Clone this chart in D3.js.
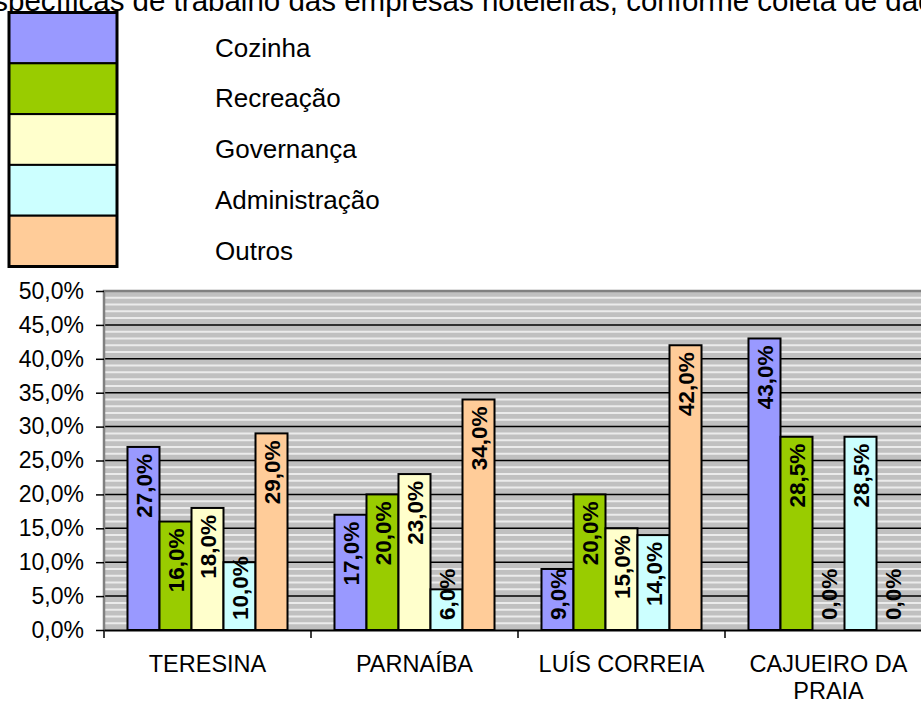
<!DOCTYPE html>
<html>
<head>
<meta charset="utf-8">
<script src="https://cdn.jsdelivr.net/npm/d3@7"></script>
<style>
  body { margin: 0; background: #fff; }
  svg { display: block; font-family: "Liberation Sans", Arial, sans-serif; }
</style>
</head>
<body>
<svg id="chart" width="921" height="703"></svg>
<script>
// data
const cities = ["TERESINA", "PARNAÍBA", "LUÍS CORREIA", "CAJUEIRO DA PRAIA"];
const areas = ["Cozinha", "Recreação", "Governança", "Administração", "Outros"];
const colors = ["#9999ff", "#99cc00", "#ffffcc", "#ccffff", "#ffcc99"];
const cozinha = [27, 17, 9, 43];
const recreacao = [16, 20, 20, 28.5];
const governanca = [18, 23, 15, 0];
const administracao = [10, 6, 14, 28.5];
const outros = [29, 34, 42, 0];
const yTicks = [0, 5, 10, 15, 20, 25, 30, 35, 40, 45, 50];
const titleText = "específicas de trabalho das empresas hoteleiras, conforme coleta de dados";

const seriesValues = [cozinha, recreacao, governanca, administracao, outros];
const pct = v => d3.format(".1f")(v).replace(".", ",") + "%";

const svg = d3.select("#chart");

// plot area frame
const plotLeft = 104, plotTop = 291, plotBottom = 630, plotRight = 932;

const y = d3.scaleLinear().domain([0, 50]).range([plotBottom, plotTop]);
const x0 = d3.scaleBand().domain(cities).range([plotLeft, plotRight]);
const x1 = d3.scaleBand().domain(areas).range([0, x0.bandwidth()]).paddingOuter(0.734);

// title, cut off at the top and left like the reference
const title = svg.append("text")
  .attr("y", 11)
  .attr("font-size", 29.5)
  .attr("fill", "#000")
  .text(titleText);
const prefix = title.node().getSubStringLength(0, 2);
title.attr("x", 8 - prefix);

// legend
const legend = svg.append("g");
const rowH = 50.8;
areas.forEach((a, i) => {
  legend.append("rect")
    .attr("x", 9).attr("y", 12.5 + i * rowH)
    .attr("width", 108).attr("height", rowH)
    .attr("fill", colors[i])
    .attr("stroke", "#000").attr("stroke-width", 2);
  legend.append("text")
    .attr("x", 215).attr("y", 12.5 + i * rowH + 44)
    .attr("font-size", 26)
    .text(a);
});
legend.append("rect")
  .attr("x", 9).attr("y", 12.5)
  .attr("width", 108).attr("height", rowH * 5)
  .attr("fill", "none")
  .attr("stroke", "#000").attr("stroke-width", 3);

// background with light minor lines
const plot = svg.append("g");
plot.append("rect")
  .attr("x", plotLeft).attr("y", plotTop)
  .attr("width", plotRight - plotLeft).attr("height", plotBottom - plotTop)
  .attr("fill", "#c0c0c0");

plot.selectAll("line.minor")
  .data(d3.range(1, 50).filter(v => v % 5 !== 0))
  .join("line")
  .attr("class", "minor")
  .attr("x1", plotLeft).attr("x2", plotRight)
  .attr("y1", d => y(d)).attr("y2", d => y(d))
  .attr("stroke", "#ebebeb").attr("stroke-width", 2);

plot.selectAll("line.major")
  .data(yTicks.filter(v => v > 0 && v < 50))
  .join("line")
  .attr("class", "major")
  .attr("x1", plotLeft).attr("x2", plotRight)
  .attr("y1", d => y(d)).attr("y2", d => y(d))
  .attr("stroke", "#000").attr("stroke-width", 1.5);

// grey frame top and left
plot.append("path")
  .attr("d", `M${plotLeft},${plotBottom}V${plotTop}H${plotRight}`)
  .attr("fill", "none")
  .attr("stroke", "#808080").attr("stroke-width", 2.5);

// bars
const groups = svg.append("g")
  .selectAll("g")
  .data(cities)
  .join("g")
  .attr("transform", d => `translate(${x0(d)},0)`);

groups.selectAll("rect")
  .data((c, ci) => areas.map((a, si) => ({ area: a, si, value: seriesValues[si][ci] })))
  .join("rect")
  .attr("x", d => x1(d.area))
  .attr("y", d => y(d.value))
  .attr("width", x1.bandwidth())
  .attr("height", d => y(0) - y(d.value))
  .attr("fill", d => colors[d.si])
  .attr("stroke", "#000")
  .attr("stroke-width", 2);

// x axis
const xAxis = svg.append("g")
  .attr("transform", `translate(0,${plotBottom})`)
  .call(d3.axisBottom(x0).tickSize(0).tickFormat(""));
xAxis.select(".domain").attr("stroke", "#000").attr("stroke-width", 2);

svg.append("g").selectAll("line")
  .data([plotLeft, ...cities.slice(1).map(c => x0(c))])
  .join("line")
  .attr("x1", d => d).attr("x2", d => d)
  .attr("y1", plotBottom).attr("y2", plotBottom + 8)
  .attr("stroke", "#000").attr("stroke-width", 1.5);

const catLines = {
  "TERESINA": ["TERESINA"],
  "PARNAÍBA": ["PARNAÍBA"],
  "LUÍS CORREIA": ["LUÍS CORREIA"],
  "CAJUEIRO DA PRAIA": ["CAJUEIRO DA", "PRAIA"]
};
cities.forEach(c => {
  const t = svg.append("text")
    .attr("text-anchor", "middle")
    .attr("font-size", 23.5)
    .attr("x", x0(c) + x0.bandwidth() / 2)
    .attr("y", 672);
  catLines[c].forEach((line, i) => {
    t.append("tspan")
      .attr("x", x0(c) + x0.bandwidth() / 2)
      .attr("dy", i === 0 ? 0 : 27)
      .text(line);
  });
});

// y axis
const yAxis = svg.append("g")
  .attr("transform", `translate(${plotLeft},0)`)
  .call(d3.axisLeft(y).tickValues(yTicks).tickSize(8).tickPadding(12).tickFormat(pct));
yAxis.select(".domain").remove();
yAxis.selectAll(".tick line").attr("stroke", "#000").attr("stroke-width", 1.5);
yAxis.selectAll(".tick text")
  .attr("font-size", 23)
  .attr("font-family", "\"Liberation Sans\", Arial, sans-serif")
  .attr("fill", "#000");

// rotated value labels, inside the top of each bar
groups.each(function (c, ci) {
  const g = d3.select(this);
  areas.forEach((a, si) => {
    const v = seriesValues[si][ci];
    const cx = x1(a) + x1.bandwidth() / 2;
    const t = g.append("text")
      .attr("font-size", 22.5)
      .attr("font-weight", "bold")
      .attr("text-anchor", "end")
      .attr("dy", "0.36em")
      .text(pct(v));
    const len = t.node().getComputedTextLength();
    const ty = Math.min(y(v) + 7, plotBottom - 10 - len);
    t.attr("transform", `translate(${cx},${ty}) rotate(-90)`);
  });
});
</script>
</body>
</html>
